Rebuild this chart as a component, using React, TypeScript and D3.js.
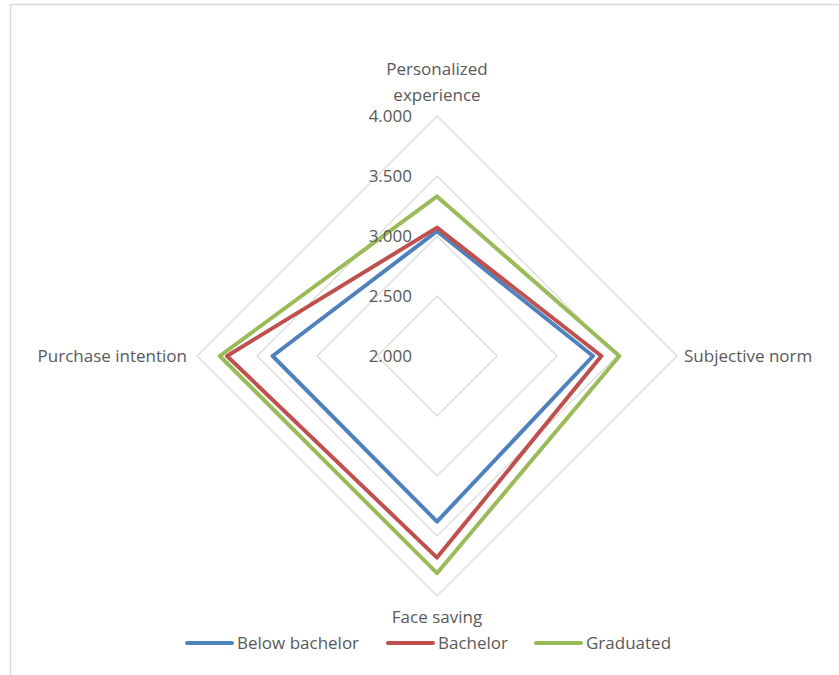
import React from "react";
import * as d3 from "d3";

const categories = ["Personalized experience", "Subjective norm", "Face saving", "Purchase intention"];
const seriesNames = ["Below bachelor", "Bachelor", "Graduated"];
const belowBachelor = [3.04, 3.3, 3.38, 3.37];
const bachelor = [3.07, 3.37, 3.68, 3.75];
const graduated = [3.33, 3.52, 3.81, 3.81];
const tickValues = [2.0, 2.5, 3.0, 3.5, 4.0];
const colors = ["#4F81BD", "#C0504D", "#9BBB59"];

const W = 839;
const H = 675;
const cx = 437;
const cy = 356;
const R = 240;
const FONT = "'Open Sans', sans-serif";
const TEXT = "#595959";
const FS = 17;

export default function App() {
  const r = d3.scaleLinear().domain([2, 4]).range([0, R]);
  const angle = (i: number) => (i * 2 * Math.PI) / categories.length;
  const line = d3
    .lineRadial<number>()
    .angle((_, i) => angle(i))
    .radius((d) => r(d))
    .curve(d3.curveLinearClosed);
  const series = [belowBachelor, bachelor, graduated];
  const fmt = d3.format(".3f");

  const legendItems = [
    { x: 187, name: seriesNames[0] },
    { x: 388, name: seriesNames[1] },
    { x: 536, name: seriesNames[2] },
  ];

  return (
    <svg width={W} height={H} style={{ position: "absolute", left: 0, top: 0, background: "#fff" }} fontFamily={FONT}>
      <rect x={0} y={0} width={W} height={H} fill="#fff" />
      <line x1={10.5} y1={4} x2={10.5} y2={H} stroke="#D9D9D9" strokeWidth={1.5} />
      <line x1={10} y1={4.5} x2={W} y2={4.5} stroke="#D9D9D9" strokeWidth={1.5} />
      <g transform={`translate(${cx},${cy})`}>
        {tickValues.slice(1).map((t) => (
          <path
            key={t}
            d={line(categories.map(() => t)) || ""}
            fill="none"
            stroke="#D9D9D9"
            strokeWidth={1.2}
          />
        ))}
        {series.map((s, k) => (
          <path
            key={k}
            d={line(s) || ""}
            fill="none"
            stroke={colors[k]}
            strokeWidth={4}
            strokeLinejoin="round"
          />
        ))}
        {tickValues.map((t) => (
          <text key={t} x={-25} y={-r(t)} dy="0.35em" textAnchor="end" fontSize={FS} fill={TEXT}>
            {fmt(t)}
          </text>
        ))}
      </g>
      <text x={cx} y={69} dy="0.35em" textAnchor="middle" fontSize={FS} fill={TEXT}>
        Personalized
      </text>
      <text x={cx} y={95} dy="0.35em" textAnchor="middle" fontSize={FS} fill={TEXT}>
        experience
      </text>
      <text x={684} y={356} dy="0.35em" textAnchor="start" fontSize={FS} fill={TEXT}>
        {categories[1]}
      </text>
      <text x={cx} y={617} dy="0.35em" textAnchor="middle" fontSize={FS} fill={TEXT}>
        {categories[2]}
      </text>
      <text x={187} y={356} dy="0.35em" textAnchor="end" fontSize={FS} fill={TEXT}>
        {categories[3]}
      </text>
      {legendItems.map((it, k) => (
        <g key={k}>
          <line x1={it.x} y1={643} x2={it.x + 45} y2={643} stroke={colors[k]} strokeWidth={4} strokeLinecap="round" />
          <text x={it.x + 50} y={643} dy="0.35em" fontSize={FS} fill={TEXT}>
            {it.name}
          </text>
        </g>
      ))}
    </svg>
  );
}
